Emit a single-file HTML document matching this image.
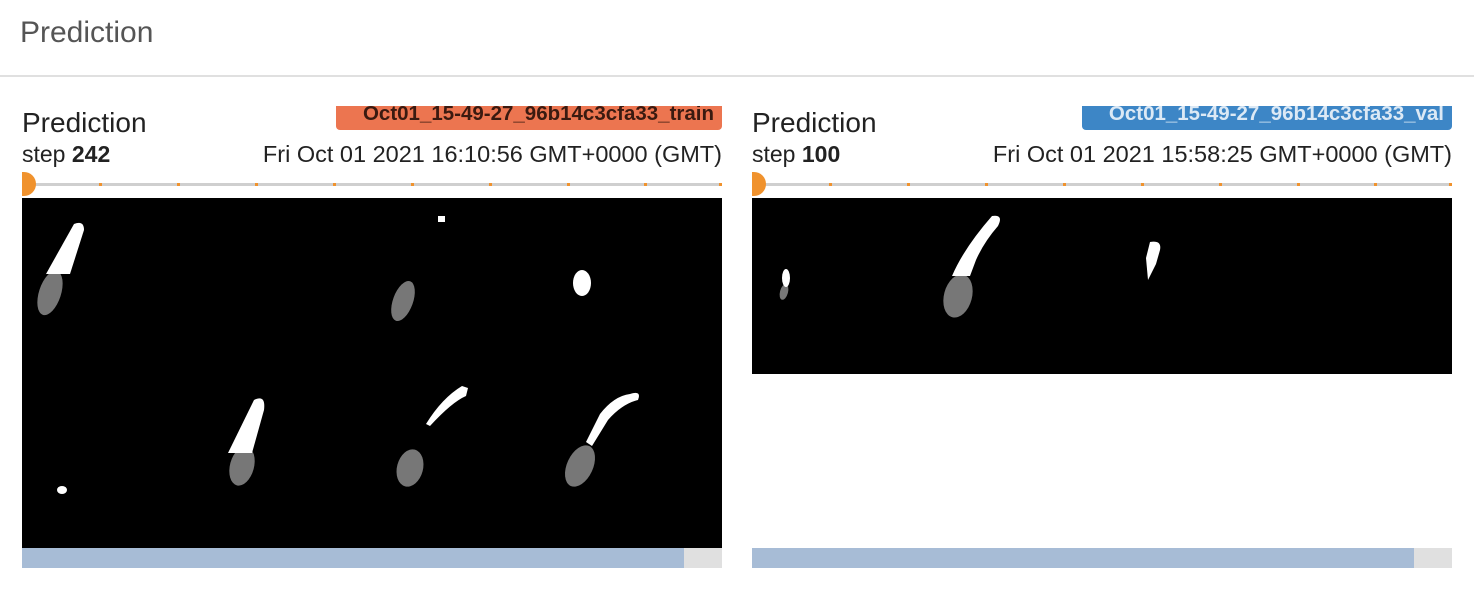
<!DOCTYPE html>
<html><head><meta charset="utf-8"><style>
body{margin:0;width:1474px;height:598px;background:#fff;font-family:"Liberation Sans",sans-serif;position:relative;overflow:hidden}
.abs{position:absolute}
.h{left:20px;top:16px;font-size:30px;color:#555}
.div{left:0;top:75px;width:1474px;height:2px;background:#e0e0e0}
.title{font-size:28px;color:#222}
.step{font-size:23px;color:#222}
.date{font-size:23.5px;color:#222;text-align:right;white-space:nowrap}
.badge{font-size:20.5px;font-weight:bold;text-align:right;padding-right:8px;box-sizing:border-box;height:24px;line-height:16px;border-radius:0 0 4px 4px;overflow:hidden;white-space:nowrap}
.line{height:3px;background:#cfcfcf}
.tick{width:3px;height:3px;background:#f0922d;top:0}
.knob{width:14px;height:24px;background:#f0922d;border-radius:0 12px 12px 0}
</style></head><body>
<div class="abs h">Prediction</div>
<div class="abs div"></div>

<div class="abs" style="left:22px;top:100px;width:700px;height:470px">
 <div class="abs badge" style="left:314px;top:6px;width:386px;background:#ec7550;color:#3a1a10">Oct01_15-49-27_96b14c3cfa33_train</div>
 <div class="abs title" style="left:0;top:7px">Prediction</div>
 <div class="abs step" style="left:0;top:41px">step <b>242</b></div>
 <div class="abs date" style="right:0;top:41px">Fri Oct 01 2021 16:10:56 GMT+0000 (GMT)</div>
 <div class="abs line" style="left:0;top:83px;width:700px">
  <div class="abs tick" style="left:77px"></div><div class="abs tick" style="left:155px"></div><div class="abs tick" style="left:233px"></div><div class="abs tick" style="left:311px"></div><div class="abs tick" style="left:389px"></div><div class="abs tick" style="left:467px"></div><div class="abs tick" style="left:545px"></div><div class="abs tick" style="left:622px"></div><div class="abs tick" style="left:697px"></div>
 </div>
 <div class="abs knob" style="left:0;top:72px"></div>
 <svg class="abs" style="left:0;top:98px" width="700" height="350">
  <rect width="700" height="350" fill="#000"/>
  <g fill="#777">
   <ellipse cx="28" cy="95" rx="11" ry="23" transform="rotate(18 28 95)"/>
   <ellipse cx="381" cy="103" rx="10" ry="21" transform="rotate(20 381 103)"/>
   <ellipse cx="220" cy="268" rx="12" ry="20" transform="rotate(15 220 268)"/>
   <ellipse cx="388" cy="270" rx="13" ry="19" transform="rotate(15 388 270)"/>
   <ellipse cx="558" cy="268" rx="13" ry="22" transform="rotate(25 558 268)"/>
  </g>
  <g fill="#fff">
   <path d="M52 26 Q62 22 62 32 L48 76 L24 76 Z"/>
   <rect x="416" y="18" width="7" height="6"/>
   <ellipse cx="560" cy="85" rx="9" ry="13"/>
   <path d="M232 202 Q244 196 242 212 L230 255 L206 255 Z"/>
   <path d="M440 188 L446 190 L444 198 Q430 204 408 228 L404 226 Q420 200 440 188 Z"/>
   <path d="M608 196 Q620 192 616 202 Q600 206 586 222 L570 248 L564 244 L578 216 Q592 198 608 196 Z"/>
   <ellipse cx="40" cy="292" rx="5" ry="4"/>
  </g>
 </svg>
 <div class="abs" style="left:0;top:448px;width:700px;height:20px;background:#e0e0e0"><div style="width:662px;height:20px;background:#a7bcd6"></div></div>
</div>

<div class="abs" style="left:752px;top:100px;width:700px;height:470px">
 <div class="abs badge" style="left:330px;top:6px;width:370px;background:#3d86c6;color:#dce9f5">Oct01_15-49-27_96b14c3cfa33_val</div>
 <div class="abs title" style="left:0;top:7px">Prediction</div>
 <div class="abs step" style="left:0;top:41px">step <b>100</b></div>
 <div class="abs date" style="right:0;top:41px">Fri Oct 01 2021 15:58:25 GMT+0000 (GMT)</div>
 <div class="abs line" style="left:0;top:83px;width:700px">
  <div class="abs tick" style="left:77px"></div><div class="abs tick" style="left:155px"></div><div class="abs tick" style="left:233px"></div><div class="abs tick" style="left:311px"></div><div class="abs tick" style="left:389px"></div><div class="abs tick" style="left:467px"></div><div class="abs tick" style="left:545px"></div><div class="abs tick" style="left:622px"></div><div class="abs tick" style="left:697px"></div>
 </div>
 <div class="abs knob" style="left:0;top:72px"></div>
 <svg class="abs" style="left:0;top:98px" width="700" height="176">
  <rect width="700" height="176" fill="#000"/>
  <g fill="#777">
   <ellipse cx="32" cy="94" rx="4" ry="8" transform="rotate(15 32 94)"/>
   <ellipse cx="206" cy="98" rx="14" ry="22" transform="rotate(15 206 98)"/>
  </g>
  <g fill="#fff">
   <ellipse cx="34" cy="80" rx="4" ry="9"/>
   <path d="M240 18 Q252 16 246 28 Q232 44 224 62 L218 78 L200 78 Q212 50 240 18 Z"/>
   <path d="M398 44 Q410 42 408 52 L404 66 L396 82 L394 60 Z"/>
  </g>
 </svg>
 <div class="abs" style="left:0;top:448px;width:700px;height:20px;background:#e0e0e0"><div style="width:662px;height:20px;background:#a7bcd6"></div></div>
</div>
</body></html>
